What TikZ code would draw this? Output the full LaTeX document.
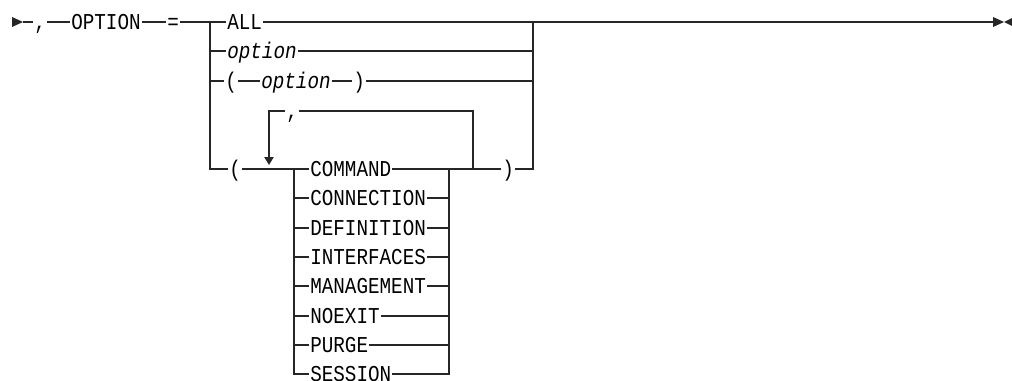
\documentclass[tikz,border=0pt]{standalone}
\usepackage{fontspec}
\setmonofont[FakeStretch=0.85]{Liberation Mono}
\usetikzlibrary{arrows.meta}

\begin{document}
\begin{tikzpicture}[
  x=0.75pt, y=-0.75pt,
  kw/.style={font=\ttfamily\fontsize{17}{19}\selectfont, anchor=west, inner xsep=0.75pt, inner ysep=0pt, text height=11.2pt, text depth=0pt},
  var/.style={kw, font=\ttfamily\itshape\fontsize{17}{19}\selectfont},
  track/.style={line width=0.9pt, draw=black!85},
  repeat/.style={track, -{Triangle[length=6pt, width=7pt]}}
]
\useasboundingbox (0,0) rectangle (1012,381);
% main line
\coordinate (start) at (23,22);
\coordinate (end) at (993,22);
\node[kw] (comma) at (33,22) {,};
\node[kw] (opkw) at (70,22) {OPTION};
\node[kw] (eq) at (166,22) {=};
\coordinate (bl) at (210,22);
\coordinate (br) at (533,22);
% choices
\node[kw] (all) at (226,22) {ALL};
\node[var] (opt) at (226,51) {option};
\node[kw] (lpar) at (224,81) {(};
\node[var] (popt) at (260,81) {option};
\node[kw] (rpar) at (352,81) {)};
\node[kw] (lparb) at (228,169) {(};
\node[kw] (rparb) at (501,169) {)};
% repeatable list
\node[kw] (sep) at (285,111) {,};
\coordinate (lt) at (269,111);
\coordinate (rt) at (473,111);
\coordinate (il) at (294,169);
\coordinate (ir) at (449,169);
\node[kw] (cmd) at (309,169) {COMMAND};
\node[kw] (conn) at (309,198) {CONNECTION};
\node[kw] (def) at (309,228) {DEFINITION};
\node[kw] (intf) at (309,257) {INTERFACES};
\node[kw] (mgmt) at (309,286) {MANAGEMENT};
\node[kw] (noex) at (309,316) {NOEXIT};
\node[kw] (purge) at (309,345) {PURGE};
\node[kw] (ses) at (309,374) {SESSION};

\fill[black!85] (12,17) -- (start) -- (12,27) -- cycle;
\draw[track] (start) -- (comma);
\draw[track] (comma) -- (opkw);
\draw[track] (opkw) -- (eq);
\draw[track] (eq) -- (all);
\draw[track] (bl) |- (lparb);
\draw[track] (bl |- opt) -- (opt);
\draw[track] (bl |- lpar) -- (lpar);
\draw[track] (all) -- (br) -- (end);
\draw[track] (opt) -- (br |- opt);
\draw[track] (lpar) -- (popt);
\draw[track] (popt) -- (rpar);
\draw[track] (rpar) -- (br |- rpar);
\draw[track] (rparb) -| (br);
\fill[black!85] (993,17) -- (1004,22) -- (993,27) -- cycle;
\fill[black!85] (1012,18) -- (1004,22) -- (1012,26) -- cycle;

\draw[track] (lparb) -- (cmd);
\draw[track] (cmd) -- (rparb);
\draw[track] (rt |- cmd) -- (rt) -- (sep);
\draw[repeat] (sep) -- (lt) -- (269,165);
\draw[track] (il) |- (ses);
\draw[track] (ses) -| (ir);
\foreach \n in {conn,def,intf,mgmt,noex,purge}
  \draw[track] (il |- \n) -- (\n) -- (ir |- \n);
\end{tikzpicture}
\end{document}
